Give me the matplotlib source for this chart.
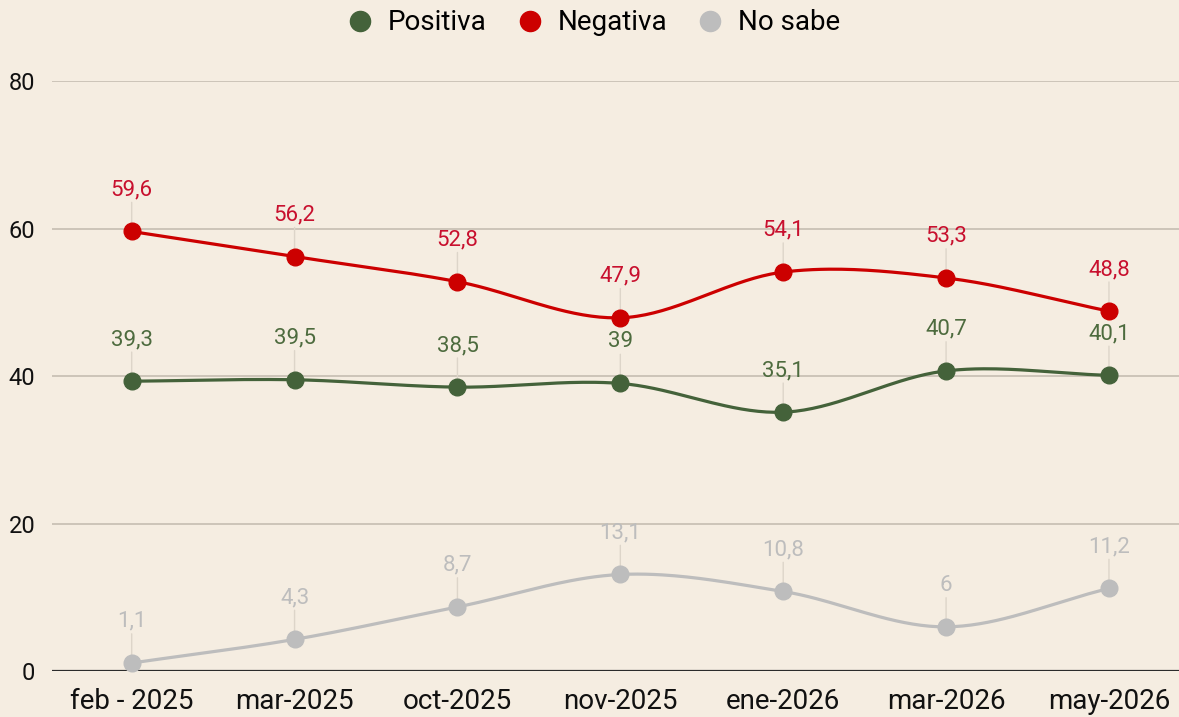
import numpy as np
import matplotlib.pyplot as plt
from matplotlib.lines import Line2D

plt.rcParams['font.family'] = ['Roboto', 'DejaVu Sans']

fechas = ["feb - 2025", "mar-2025", "oct-2025", "nov-2025",
          "ene-2026", "mar-2026", "may-2026"]
positiva = [39.3, 39.5, 38.5, 39.0, 35.1, 40.7, 40.1]
negativa = [59.6, 56.2, 52.8, 47.9, 54.1, 53.3, 48.8]
no_sabe = [1.1, 4.3, 8.7, 13.1, 10.8, 6.0, 11.2]
y_ticks = [0, 20, 40, 60, 80]

BG = "#f5ede1"
series = [
    ("Positiva", positiva, "#44623a", "#4d6b3e"),
    ("Negativa", negativa, "#cc0000", "#c8102e"),
    ("No sabe", no_sabe, "#bdbdbd", "#bdbdbd"),
]


def smooth(xs, ys, n=40):
    """Catmull-Rom curve through the points (only for drawing)."""
    xs = np.asarray(xs, float)
    ys = np.asarray(ys, float)
    px = np.concatenate([[2*xs[0] - xs[1]], xs, [2*xs[-1] - xs[-2]]])
    py = np.concatenate([[2*ys[0] - ys[1]], ys, [2*ys[-1] - ys[-2]]])
    out_x, out_y = [], []
    t = np.linspace(0, 1, n)
    for i in range(1, len(px) - 2):
        for p, out in ((px, out_x), (py, out_y)):
            p0, p1, p2, p3 = p[i-1], p[i], p[i+1], p[i+2]
            out.append(0.5 * (2*p1 + (-p0 + p2)*t
                              + (2*p0 - 5*p1 + 4*p2 - p3)*t**2
                              + (-p0 + 3*p1 - 3*p2 + p3)*t**3))
    return np.concatenate(out_x), np.concatenate(out_y)


def fmt(v):
    s = f"{v:.1f}"
    if s.endswith(".0"):
        s = s[:-2]
    return s.replace(".", ",")


fig = plt.figure(figsize=(11.79, 7.17), dpi=100, facecolor=BG)
ax = fig.add_axes([0.044, 0.064, 0.956, 0.823], facecolor=BG)

x = np.arange(len(fechas))
for name, vals, col, txt_col in series:
    sx, sy = smooth(x, vals)
    ax.plot(sx, sy, color=col, lw=2.3, zorder=3, clip_on=False,
            solid_capstyle='round')
    ax.plot(x, vals, 'o', color=col, ms=12, zorder=4, clip_on=False)
    for xi, v in zip(x, vals):
        ax.annotate("", xy=(xi, v), xytext=(0, 21), textcoords='offset points',
                    arrowprops=dict(arrowstyle='-', color='#ddd5c9', lw=1,
                                    shrinkA=0, shrinkB=0), zorder=1)
        ax.annotate(fmt(v), xy=(xi, v), xytext=(0, 30),
                    textcoords='offset points', ha='center', va='center',
                    fontsize=16, color=txt_col, zorder=5)

ax.set_xlim(-0.49, 6.43)
ax.set_ylim(0, 80)
ax.set_yticks(y_ticks)
ax.set_xticks(x)
ax.set_xticklabels(fechas, fontsize=20)
ax.tick_params(axis='both', length=0, colors='#111111')
ax.tick_params(axis='y', labelsize=17, pad=12)
ax.tick_params(axis='x', pad=12)
for t in y_ticks[1:]:
    ax.axhline(t, color='#c9c1b5', lw=1.3, zorder=0)
ax.axhline(0, color='#2b2b2b', lw=1.6, zorder=2)
for s in ax.spines.values():
    s.set_visible(False)

handles = [Line2D([], [], marker='o', ls='', color=col, ms=14.5)
           for _, _, col, _ in series]
fig.legend(handles, [s[0] for s in series], loc='center',
           bbox_to_anchor=(0.503, 0.968), ncol=3, frameon=False,
           fontsize=20, handlelength=1.0, handletextpad=0.5,
           columnspacing=1.05)

fig.savefig("out.png", dpi=100, facecolor=BG)
